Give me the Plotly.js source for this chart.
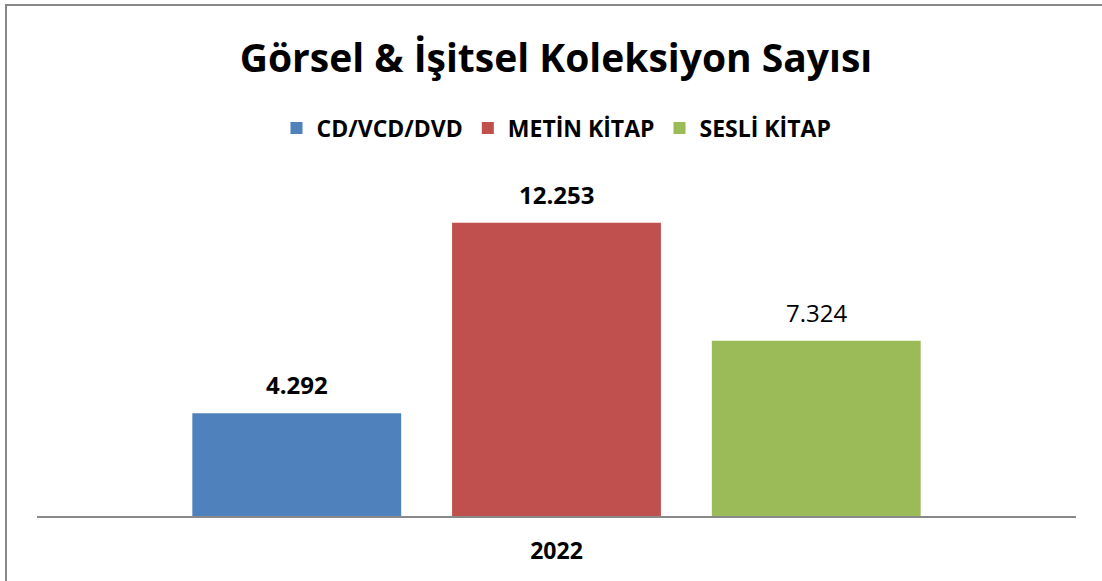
<!DOCTYPE html>
<html>
<head>
<meta charset="utf-8">
<script src="https://cdn.plot.ly/plotly-3.0.1.min.js"></script>
<style>
  html, body { margin: 0; padding: 0; background: #fff; overflow: hidden; }
  #wrap { position: relative; width: 1102px; height: 581px; overflow: hidden; }
  #chart { width: 1102px; height: 581px; }
  #frame {
    position: absolute; left: 5px; top: 4px; width: 1300px; height: 900px;
    border-top: 2px solid #888888; border-left: 2px solid #888888;
    pointer-events: none; box-sizing: border-box;
  }
</style>
</head>
<body>
<div id="wrap">
  <div id="chart"></div>
  <div id="frame"></div>
</div>
<script>
// ---- data ----
const titleText = 'Görsel & İşitsel Koleksiyon Sayısı';
const categories = ['CD/VCD/DVD', 'METİN KİTAP', 'SESLİ KİTAP'];
const values = [4292, 12253, 7324];
const valueLabels = ['4.292', '12.253', '7.324'];
const yearLabel = ['2022'];

// ---- styles ----
const colors = ['#4F81BD', '#C0504D', '#9BBB59'];
const labelWeights = ['bold', 'bold', 'normal'];
const FONT = '"Open Sans", "Noto Sans", sans-serif';

const traces = categories.map((c, i) => ({
  type: 'bar',
  name: c,
  x: [c],
  y: [values[i]],
  marker: { color: colors[i] },
  hoverinfo: 'skip'
}));

const annotations = categories.map((c, i) => ({
  x: c,
  y: values[i],
  xref: 'x',
  yref: 'y',
  text: valueLabels[i],
  showarrow: false,
  yanchor: 'bottom',
  yshift: 10,
  font: { family: FONT, size: 24, color: '#000', weight: labelWeights[i] }
}));

const layout = {
  width: 1102,
  height: 581,
  margin: { l: 37, r: 26, t: 181, b: 65 },
  paper_bgcolor: '#fff',
  plot_bgcolor: '#fff',
  barmode: 'overlay',
  bargap: 0.196,
  showlegend: true,
  title: {
    text: titleText,
    font: { family: FONT, size: 39, color: '#000', weight: 'bold' },
    x: 0.5045,
    xanchor: 'center',
    y: 1 - 58 / 581,
    yanchor: 'middle',
    yref: 'container'
  },
  legend: {
    orientation: 'h',
    x: 0.5,
    xanchor: 'center',
    y: 1 + 53 / 335,
    yanchor: 'middle',
    font: { family: FONT, size: 23, color: '#000', weight: 'bold' },
    itemgap: 10,
    traceorder: 'normal'
  },
  xaxis: {
    type: 'category',
    categoryorder: 'array',
    categoryarray: categories,
    range: [-1, 3],
    showline: true,
    linecolor: '#898989',
    linewidth: 2,
    ticks: '',
    tickmode: 'array',
    tickvals: [categories[1]],
    ticktext: yearLabel,
    tickfont: { family: FONT, size: 23, color: '#000', weight: 'bold' },
    ticklabelstandoff: 13,
    showgrid: false,
    zeroline: false,
    fixedrange: true
  },
  yaxis: {
    range: [0, 14000],
    visible: false,
    showgrid: false,
    zeroline: false,
    fixedrange: true
  },
  annotations: annotations
};

Plotly.newPlot('chart', traces, layout, { displayModeBar: false, staticPlot: true });
</script>
</body>
</html>
